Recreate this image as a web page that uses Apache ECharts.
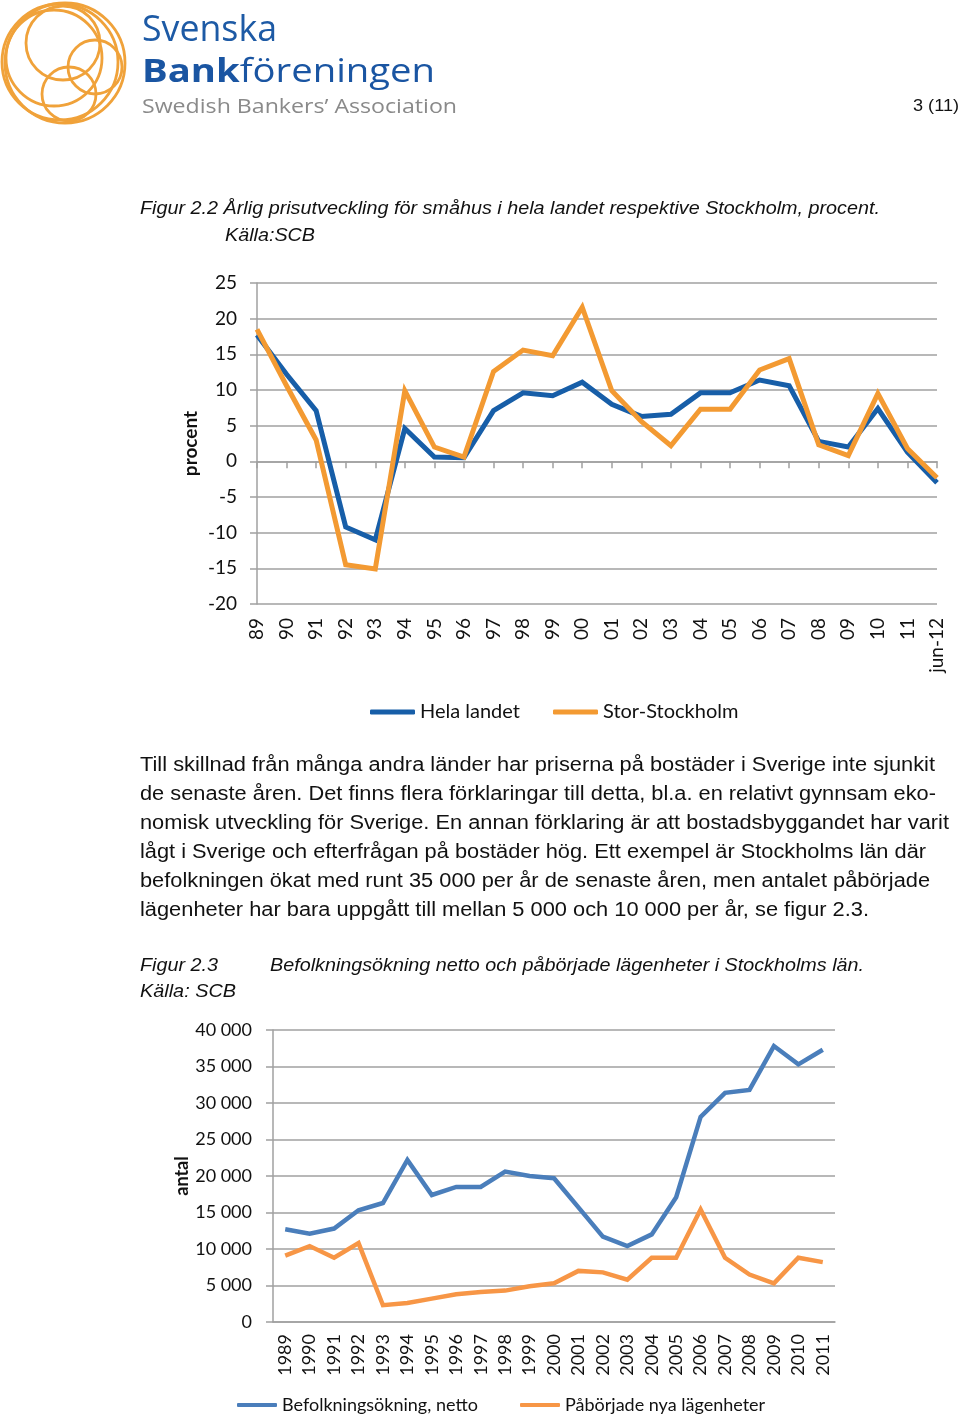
<!DOCTYPE html>
<html><head><meta charset="utf-8">
<script src="https://cdn.jsdelivr.net/npm/echarts@6/dist/echarts.min.js"></script>
<style>html,body{margin:0;padding:0;background:#fff}#main{width:960px;height:1417px}</style>
</head><body><div id="main"></div>
<script>
// ---- Data ----
const years1 = ['89','90','91','92','93','94','95','96','97','98','99','00','01','02','03','04','05','06','07','08','09','10','11','jun-12'];
const helaLandet = [17.7,12.2,7.1,-9.2,-11.0,4.6,0.6,0.5,7.1,9.6,9.2,11.1,8.0,6.3,6.6,9.6,9.6,11.4,10.6,2.8,2.0,7.4,1.3,-3.0];
const storStockholm = [18.5,10.6,3.0,-14.5,-15.1,9.9,2.0,0.6,12.6,15.6,14.8,21.6,9.9,5.6,2.2,7.3,7.3,12.8,14.4,2.3,0.8,9.5,1.8,-2.3];
const yTicks1 = [-20,25,5];

const years2 = ['1989','1990','1991','1992','1993','1994','1995','1996','1997','1998','1999','2000','2001','2002','2003','2004','2005','2006','2007','2008','2009','2010','2011'];
const befolkning = [12700,12100,12800,15300,16300,22200,17400,18500,18500,20600,20000,19700,15700,11700,10400,12000,17100,28100,31400,31800,37800,35300,37300];
const paborjade = [9100,10400,8800,10800,2300,2600,3200,3800,4100,4300,4900,5300,7000,6800,5800,8800,8800,15400,8800,6500,5300,8800,8200];
const yTicks2 = [0,40000,5000];

const paragraph = [
  'Till skillnad från många andra länder har priserna på bostäder i Sverige inte sjunkit',
  'de senaste åren. Det finns flera förklaringar till detta, bl.a. en relativt gynnsam eko-',
  'nomisk utveckling för Sverige. En annan förklaring är att bostadsbyggandet har varit',
  'lågt i Sverige och efterfrågan på bostäder hög. Ett exempel är Stockholms län där',
  'befolkningen ökat med runt 35 000 per år de senaste åren, men antalet påbörjade',
  'lägenheter har bara uppgått till mellan 5 000 och 10 000 per år, se figur 2.3.'
];

// ---- Helpers ----
const mctx = document.createElement('canvas').getContext('2d');
function measure(text, font){ mctx.font = font; return mctx.measureText(text).width; }
function txt(text, x, y, font, w, fill){
  const m = measure(text, font);
  return {type:'text', x:x, y:y, scaleX: w ? w/m : 1, silent:true,
    style:{text:text, x:0, y:0, font:font, fill:fill||'#111', textAlign:'left', verticalAlign:'middle', textVerticalAlign:'middle'}};
}
const fmtSpace = v => String(v).replace(/\B(?=(\d{3})+(?!\d))/g, '\u00a0');

// ---- Graphic elements (logo, captions, paragraph) ----
const graphics = [];
const logoOrange = '#f0a23a';
[[60,62,58],[65,63,60],[63,43,37],[95,67,27],[69,94,27],[54,58,48]].forEach(c=>{
  graphics.push({type:'circle', shape:{cx:c[0], cy:c[1], r:c[2]}, silent:true, style:{fill:'none', stroke:logoOrange, lineWidth:2.8}});
});
graphics.push(txt('Svenska', 142, 31, '36px "Open Sans"', 135, '#1d5aa5'));
(function(){
  const fb = 'bold 32px "Open Sans"', fr = '32px "Open Sans"';
  const wb = measure('Bank', fb), wr = measure('föreningen', fr);
  const s = 293/(wb+wr);
  graphics.push({type:'text', x:142, y:73, scaleX:s, silent:true, style:{text:'Bank', x:0,y:0, font:fb, fill:'#1a55a2', verticalAlign:'middle', textVerticalAlign:'middle'}});
  graphics.push({type:'text', x:142+wb*s, y:73, scaleX:s, silent:true, style:{text:'föreningen', x:0,y:0, font:fr, fill:'#1a55a2', verticalAlign:'middle', textVerticalAlign:'middle'}});
})();
graphics.push(txt('Swedish Bankers\u2019 Association', 142, 107, '20px "Open Sans"', 315, '#8a8a8a'));
graphics.push(txt('3 (11)', 913, 106, '17px "Liberation Sans"', 46, '#111'));

const capFont = 'italic 18px "Liberation Sans"';
graphics.push(txt('Figur 2.2 Årlig prisutveckling för småhus i hela landet respektive Stockholm, procent.', 140, 209, capFont, 740));
graphics.push(txt('Källa:SCB', 225, 236, capFont, 90));

const parFont = '20px "Liberation Sans"';
const parY = [765,794,823,852,881,910];
const parW = [795,796,809,786,790,729];
paragraph.forEach((l,i)=>graphics.push(txt(l, 140, parY[i], parFont, parW[i])));

graphics.push(txt('Figur 2.3', 140, 966, capFont, 78));
graphics.push(txt('Befolkningsökning netto och påbörjade lägenheter i Stockholms län.', 270, 966, capFont, 594));
graphics.push(txt('Källa: SCB', 140, 992, capFont, 96));

// ---- Chart ----
const gridColor = '#a0a0a0';
const labelFont = 'Lato';
const chart = echarts.init(document.getElementById('main'), null, {width:960, height:1417});
const legStyle = {fontFamily:labelFont, fontSize:20, color:'#111'};
chart.setOption({
  backgroundColor:'#ffffff',
  animation:false,
  graphic: graphics,
  grid:[
    {left:257, top:283, width:680, height:321},
    {left:273, top:1030, width:562, height:292}
  ],
  legend:[
    {data:['Hela landet'], left:370, top:702, padding:0, icon:'roundRect', itemWidth:45, itemHeight:5, itemGap:4, textStyle:legStyle},
    {data:['Stor-Stockholm'], left:553, top:702, padding:0, icon:'roundRect', itemWidth:45, itemHeight:5, textStyle:legStyle},
    {data:['Befolkningsökning, netto'], left:237, top:1396, padding:0, icon:'roundRect', itemWidth:40, itemHeight:4, textStyle:{fontFamily:labelFont, fontSize:18, color:'#111'}},
    {data:['Påbörjade nya lägenheter'], left:520, top:1396, padding:0, icon:'roundRect', itemWidth:40, itemHeight:4, textStyle:{fontFamily:labelFont, fontSize:18, color:'#111'}}
  ],
  xAxis:[
    {gridIndex:0, type:'category', data:years1, boundaryGap:false, position:'top',
      axisLine:{onZero:true, lineStyle:{color:gridColor, width:1.5}},
      axisTick:{inside:true, length:7, interval:0, lineStyle:{color:gridColor, width:1.5}},
      axisLabel:{show:false}, splitLine:{show:false}},
    {gridIndex:0, type:'category', data:years1, boundaryGap:false, position:'bottom',
      axisLine:{show:false, onZero:false}, axisTick:{show:false},
      axisLabel:{interval:0, rotate:90, margin:14, fontFamily:labelFont, fontSize:19, color:'#111'}, splitLine:{show:false}},
    {gridIndex:1, type:'category', data:years2, boundaryGap:true,
      axisLine:{lineStyle:{color:gridColor, width:1.5}},
      axisTick:{length:8, interval:0, lineStyle:{color:gridColor, width:1.5}},
      axisLabel:{interval:0, rotate:90, margin:12, fontFamily:labelFont, fontSize:18, color:'#111'}}
  ],
  yAxis:[
    {gridIndex:0, type:'value', min:yTicks1[0], max:yTicks1[1], interval:yTicks1[2],
      axisLine:{show:true, lineStyle:{color:gridColor, width:1.5}},
      axisTick:{show:true, length:7, lineStyle:{color:gridColor, width:1.5}},
      splitLine:{lineStyle:{color:gridColor, width:1.5}},
      axisLabel:{margin:20, fontFamily:labelFont, fontSize:19, color:'#111'},
      name:'procent', nameLocation:'middle', nameRotate:90, nameGap:57, nameMoveOverlap:false,
      nameTextStyle:{fontFamily:labelFont, fontWeight:'bold', fontSize:19, color:'#111'}},
    {gridIndex:1, type:'value', min:yTicks2[0], max:yTicks2[1], interval:yTicks2[2],
      axisLine:{show:true, lineStyle:{color:gridColor, width:1.5}},
      axisTick:{show:true, length:7, lineStyle:{color:gridColor, width:1.5}},
      splitLine:{lineStyle:{color:gridColor, width:1.5}},
      axisLabel:{margin:21, fontFamily:labelFont, fontSize:18, color:'#111', formatter:fmtSpace},
      name:'antal', nameLocation:'middle', nameRotate:90, nameGap:82, nameMoveOverlap:false,
      nameTextStyle:{fontFamily:labelFont, fontWeight:'bold', fontSize:18, color:'#111'}}
  ],
  series:[
    {name:'Hela landet', type:'line', xAxisIndex:0, yAxisIndex:0, data:helaLandet, showSymbol:false, symbol:'none',
      color:'#175ea8', lineStyle:{width:5, color:'#175ea8', join:'miter'}},
    {name:'Stor-Stockholm', type:'line', xAxisIndex:0, yAxisIndex:0, data:storStockholm, showSymbol:false, symbol:'none',
      color:'#f39a32', lineStyle:{width:5, color:'#f39a32', join:'miter'}},
    {name:'Befolkningsökning, netto', type:'line', xAxisIndex:2, yAxisIndex:1, data:befolkning, showSymbol:false, symbol:'none',
      color:'#4a7ebb', lineStyle:{width:4.5, color:'#4a7ebb', join:'miter'}},
    {name:'Påbörjade nya lägenheter', type:'line', xAxisIndex:2, yAxisIndex:1, data:paborjade, showSymbol:false, symbol:'none',
      color:'#f79646', lineStyle:{width:4.5, color:'#f79646', join:'miter'}}
  ]
});
</script></body></html>
